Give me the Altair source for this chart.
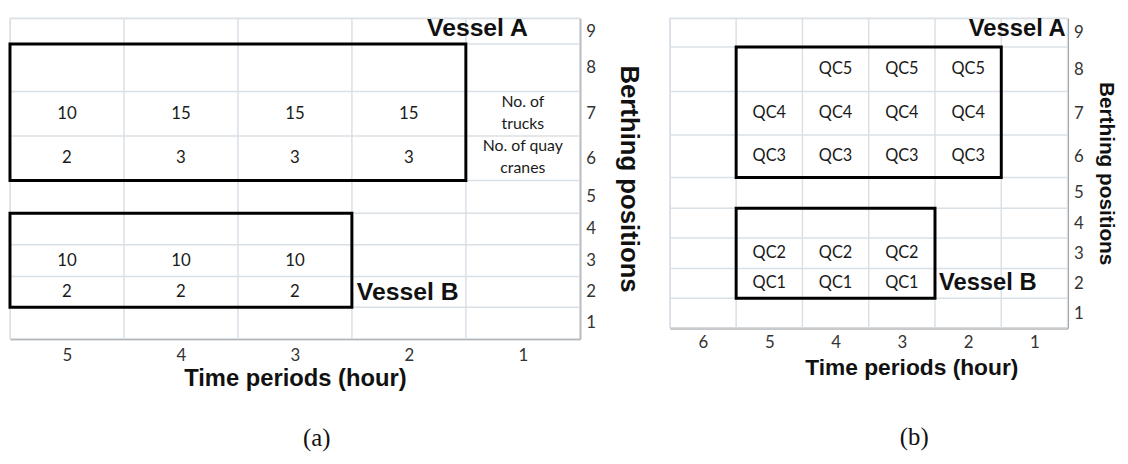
import altair as alt
import pandas as pd

# ---------------- data ----------------
PERIODS_A = [5, 4, 3, 2, 1]
PERIODS_B = [6, 5, 4, 3, 2, 1]
POSITIONS = [1, 2, 3, 4, 5, 6, 7, 8, 9]

# panel (a): numbers of trucks / quay cranes
A_PERIODS = [5, 4, 3, 2]
A_TRUCKS = [10, 15, 15, 15]
A_CRANES = [2, 3, 3, 3]
B_PERIODS = [5, 4, 3]
B_TRUCKS = [10, 10, 10]
B_CRANES = [2, 2, 2]
ROW_TRUCKS_A, ROW_CRANES_A = 7, 6
ROW_TRUCKS_B, ROW_CRANES_B = 3, 2
ROW_NOTES = ["No. of\ntrucks", "No. of quay\ncranes"]

# panel (b): quay-crane assignment
QC_NAMES = ["QC5", "QC4", "QC3", "QC2", "QC1"]
QC_ROWS = [8, 7, 6, 3, 2]
QC_PERIODS = [[4, 3, 2], [5, 4, 3, 2], [5, 4, 3, 2], [5, 4, 3], [5, 4, 3]]

# vessel boxes: (name, first period, last period, low position, high position)
VESSELS = [("Vessel A", 5, 2, 6, 8), ("Vessel B", 5, 3, 2, 4)]

# ---------------- layout / style ----------------
FONT_CELL = "Lato"
FONT_BOLD = "Liberation Sans"
GRID_COLOR = "#d9e0e6"
AXIS_COLOR = "#8f8f8f"

# row edges (pixels from top) reproduce the uneven spreadsheet rows
ROW_EDGES_A = [324, 292, 261, 229, 197, 164, 119, 74, 26, 0]
ROW_EDGES_B = [313, 283, 253, 222, 192, 161, 118, 74, 29, 0]


def make_panel(periods, row_edges, width, height, layers_fn, x_axis_extra, y_axis_extra,
               caption, cap_dx, cap_offset):
    pmin, pmax = min(periods), max(periods)
    xscale = alt.Scale(domain=[pmin - 0.5, pmax + 0.5], reverse=True, nice=False, zero=False)
    y_dom = [p - 0.5 for p in POSITIONS] + [max(POSITIONS) + 0.5]
    yscale = alt.Scale(domain=y_dom, range=row_edges, nice=False, zero=False)
    xaxis = alt.Axis(values=periods, format="d", grid=False, ticks=False,
                     domainColor=AXIS_COLOR, domainWidth=2,
                     labelFont=FONT_CELL, labelFontSize=17, labelColor="#333333",
                     title="Time periods (hour)", titleFont=FONT_BOLD, titleFontWeight="bold",
                     titleColor="#111111", **x_axis_extra)
    yaxis = alt.Axis(values=POSITIONS, format="d", grid=False, ticks=False, orient="right",
                     domainColor=AXIS_COLOR, domainWidth=2,
                     labelFont=FONT_CELL, labelFontSize=17, labelColor="#333333", labelPadding=6,
                     title="Berthing positions", titleFont=FONT_BOLD, titleFontWeight="bold",
                     titleColor="#111111", titleAngle=90, **y_axis_extra)
    X = lambda: alt.X("t:Q", scale=xscale, axis=xaxis)
    Y = lambda: alt.Y("p:Q", scale=yscale, axis=yaxis)

    x_edges = [p + 0.5 for p in periods] + [pmin - 0.5]
    y_edges = [p - 0.5 for p in POSITIONS] + [max(POSITIONS) + 0.5]
    vgrid = pd.DataFrame({"t": x_edges, "p": min(y_edges), "p2": max(y_edges)})
    hgrid = pd.DataFrame({"p": y_edges, "t": min(x_edges), "t2": max(x_edges)})

    layers = [
        alt.Chart(vgrid).mark_rule(color=GRID_COLOR, strokeWidth=1.5).encode(
            x=X(), y=Y(), y2="p2:Q"),
        alt.Chart(hgrid).mark_rule(color=GRID_COLOR, strokeWidth=1.5).encode(
            x=X(), x2="t2:Q", y=Y()),
    ]
    boxes = pd.DataFrame({
        "name": [v[0] for v in VESSELS],
        "t": [v[1] + 0.5 for v in VESSELS],
        "t2": [v[2] - 0.5 for v in VESSELS],
        "p": [v[3] - 0.5 for v in VESSELS],
        "p2": [v[4] + 0.5 for v in VESSELS],
    })
    layers.append(alt.Chart(boxes).mark_rect(filled=False, stroke="black", strokeWidth=3).encode(
        x=X(), x2="t2:Q", y=Y(), y2="p2:Q"))
    layers += layers_fn(X, Y)
    return alt.layer(*layers).properties(
        width=width, height=height,
        title=alt.TitleParams(caption, orient="bottom", font="Liberation Serif", fontSize=25,
                              fontWeight="normal", color="#111111", offset=cap_offset, dx=cap_dx),
    )


def layers_a(X, Y):
    cells = pd.DataFrame({
        "t": A_PERIODS + A_PERIODS + B_PERIODS + B_PERIODS,
        "p": [ROW_TRUCKS_A] * len(A_PERIODS) + [ROW_CRANES_A] * len(A_PERIODS)
             + [ROW_TRUCKS_B] * len(B_PERIODS) + [ROW_CRANES_B] * len(B_PERIODS),
        "label": [str(v) for v in A_TRUCKS + A_CRANES + B_TRUCKS + B_CRANES],
    })
    notes = pd.DataFrame({"t": [min(PERIODS_A)] * 2, "p": [ROW_TRUCKS_A, ROW_CRANES_A], "label": ROW_NOTES})
    va = pd.DataFrame({"t": [min(PERIODS_A)], "p": [max(POSITIONS)], "label": ["Vessel A"]})
    vb = pd.DataFrame({"t": [VESSELS[1][2] - 0.5], "p": [ROW_CRANES_B], "label": ["Vessel B"]})
    return [
        alt.Chart(cells).mark_text(font=FONT_CELL, fontSize=17, color="#1a1a1a").encode(
            x=X(), y=Y(), text="label:N"),
        alt.Chart(notes).mark_text(font=FONT_CELL, fontSize=16, color="#1a1a1a",
                                   lineBreak="\n", lineHeight=22, dy=-12).encode(
            x=X(), y=Y(), text="label:N"),
        alt.Chart(va).mark_text(font=FONT_BOLD, fontWeight="bold", fontSize=25, align="right",
                                dx=5, dy=-3, color="#111111").encode(x=X(), y=Y(), text="label:N"),
        alt.Chart(vb).mark_text(font=FONT_BOLD, fontWeight="bold", fontSize=25, align="left",
                                dx=5, color="#111111").encode(x=X(), y=Y(), text="label:N"),
    ]


def layers_b(X, Y):
    ts, ps, labels = [], [], []
    for name, row, pers in zip(QC_NAMES, QC_ROWS, QC_PERIODS):
        for t in pers:
            ts.append(t)
            ps.append(row)
            labels.append(name)
    cells = pd.DataFrame({"t": ts, "p": ps, "label": labels})
    va = pd.DataFrame({"t": [min(PERIODS_B) - 0.5], "p": [max(POSITIONS)], "label": ["Vessel A"]})
    vb = pd.DataFrame({"t": [VESSELS[1][2] - 0.5], "p": [ROW_CRANES_B], "label": ["Vessel B"]})
    return [
        alt.Chart(cells).mark_text(font=FONT_CELL, fontSize=16.5, color="#1a1a1a").encode(
            x=X(), y=Y(), text="label:N"),
        alt.Chart(va).mark_text(font=FONT_BOLD, fontWeight="bold", fontSize=24, align="right",
                                dx=-2, dy=-4, color="#111111").encode(x=X(), y=Y(), text="label:N"),
        alt.Chart(vb).mark_text(font=FONT_BOLD, fontWeight="bold", fontSize=24, align="left",
                                dx=4, color="#111111").encode(x=X(), y=Y(), text="label:N"),
    ]


panel_a = make_panel(PERIODS_A, ROW_EDGES_A, 576, 324, layers_a,
                     dict(labelPadding=9, titleFontSize=24, titlePadding=3),
                     dict(titleFontSize=26, titlePadding=20), "(a)", 22, 36)
panel_b = make_panel(PERIODS_B, ROW_EDGES_B, 402, 313, layers_b,
                     dict(labelPadding=7, titleFontSize=23, titlePadding=6, titleX=244),
                     dict(titleFontSize=21, titlePadding=12), "(b)", 46, 46)

chart = alt.hconcat(panel_a, panel_b, spacing=26).properties(
    padding={"left": 0, "top": 5, "right": 3, "bottom": 0}
).configure_view(stroke=None).configure(background="white")

chart.save("out.html", embed_options={"renderer": "svg", "actions": False})
